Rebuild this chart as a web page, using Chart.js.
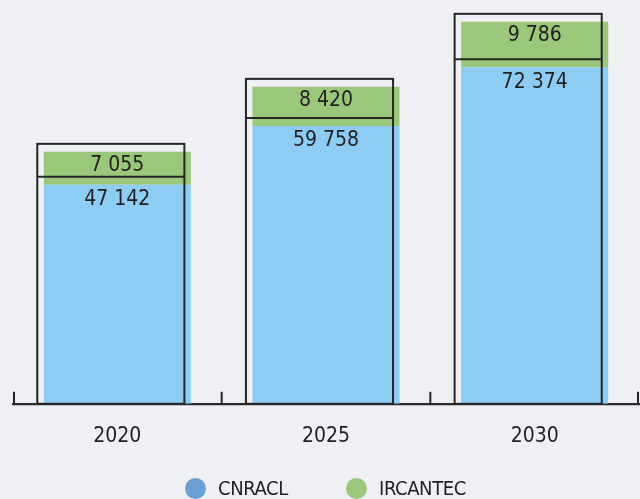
<!DOCTYPE html>
<html>
<head>
<meta charset="utf-8">
<script src="https://cdn.jsdelivr.net/npm/chart.js@4/dist/chart.umd.min.js"></script>
<style>
  html, body { margin: 0; padding: 0; background: #eff0f4; }
  #wrap { position: relative; width: 640px; height: 499px; }
  #legend { position: absolute; left: 185px; top: 476px; display: flex; }
  .item { display: flex; align-items: center; width: 161px; font: 20px "Liberation Sans Narrow", "DejaVu Sans Condensed", sans-serif; color: #231f20; letter-spacing: -0.4px; }
  .dot { width: 21px; height: 21px; border-radius: 50%; margin-right: 12px; }
</style>
</head>
<body>
<div id="wrap">
  <canvas id="chart" width="640" height="499"></canvas>
  <div id="legend"></div>
</div>
<script>
const years = ["2020", "2025", "2030"];
const cnracl = [47142, 59758, 72374];
const ircantec = [7055, 8420, 9786];
const seriesNames = ["CNRACL", "IRCANTEC"];
const barColors = ["#8ecdf3", "#9bc77a"];
const legendColors = ["#6b9fd6", "#9bc77a"];

const FONT = '"Liberation Sans Narrow", "DejaVu Sans Condensed", sans-serif';
const INK = "#231f20";

const fmt = (v) => v.toLocaleString("fr-FR").replace(/\s/g, " ");

// contour décalé + étiquettes + petits traits sur l'axe
const extras = {
  id: "extras",
  afterDatasetsDraw(chart) {
    const ctx = chart.ctx;
    const yScale = chart.scales.y;
    const base = yScale.getPixelForValue(0);
    const blue = chart.getDatasetMeta(0).data;
    const green = chart.getDatasetMeta(1).data;

    ctx.save();
    ctx.strokeStyle = "#262626";
    ctx.lineWidth = 2;
    blue.forEach((b, i) => {
      const g = green[i];
      const left = b.x - b.width / 2 - 6.5;
      const top = g.y - 8;
      ctx.strokeRect(left, top, b.width, base - top);
      ctx.beginPath();
      ctx.moveTo(left, b.y - 8);
      ctx.lineTo(left + b.width, b.y - 8);
      ctx.stroke();
    });

    ctx.fillStyle = INK;
    ctx.font = "21px " + FONT;
    ctx.textAlign = "center";
    ctx.textBaseline = "alphabetic";
    [0, 1].forEach((d) => {
      const vals = d === 0 ? cnracl : ircantec;
      chart.getDatasetMeta(d).data.forEach((el, i) => {
        ctx.fillText(fmt(vals[i]), el.x, el.y + (d === 0 ? 20.5 : 19.5));
      });
    });

    const area = chart.chartArea;
    const n = years.length;
    ctx.lineWidth = 2;
    for (let i = 0; i <= n; i++) {
      let x = area.left + (i * (area.right - area.left)) / n;
      if (i === 0) x += 1;
      if (i === n) x -= 1;
      ctx.beginPath();
      ctx.moveTo(x, area.bottom);
      ctx.lineTo(x, area.bottom - 12);
      ctx.stroke();
    }
    ctx.restore();
  },
};

const chart = new Chart(document.getElementById("chart"), {
  type: "bar",
  data: {
    labels: years,
    datasets: [
      { label: seriesNames[0], data: cnracl, backgroundColor: barColors[0] },
      { label: seriesNames[1], data: ircantec, backgroundColor: barColors[1] },
    ],
  },
  options: {
    responsive: false,
    animation: false,
    categoryPercentage: 1,
    barPercentage: 0.705,
    layout: { padding: { top: 4, left: 13, right: 1, bottom: 30 } },
    plugins: { legend: { display: false }, tooltip: { enabled: false } },
    scales: {
      x: {
        stacked: true,
        grid: { display: false, drawTicks: false },
        border: { display: true, color: "#2b2b2b", width: 2.3 },
        ticks: { color: INK, font: { family: FONT, size: 21 }, padding: 20 },
      },
      y: { stacked: true, display: false, min: 0, max: 86000 },
    },
  },
  plugins: [extras],
});

const legend = document.getElementById("legend");
chart.data.datasets.forEach((ds, i) => {
  const item = document.createElement("div");
  item.className = "item";
  item.innerHTML = `<span class="dot" style="background:${legendColors[i]}"></span><span>${ds.label}</span>`;
  legend.appendChild(item);
});
</script>
</body>
</html>
